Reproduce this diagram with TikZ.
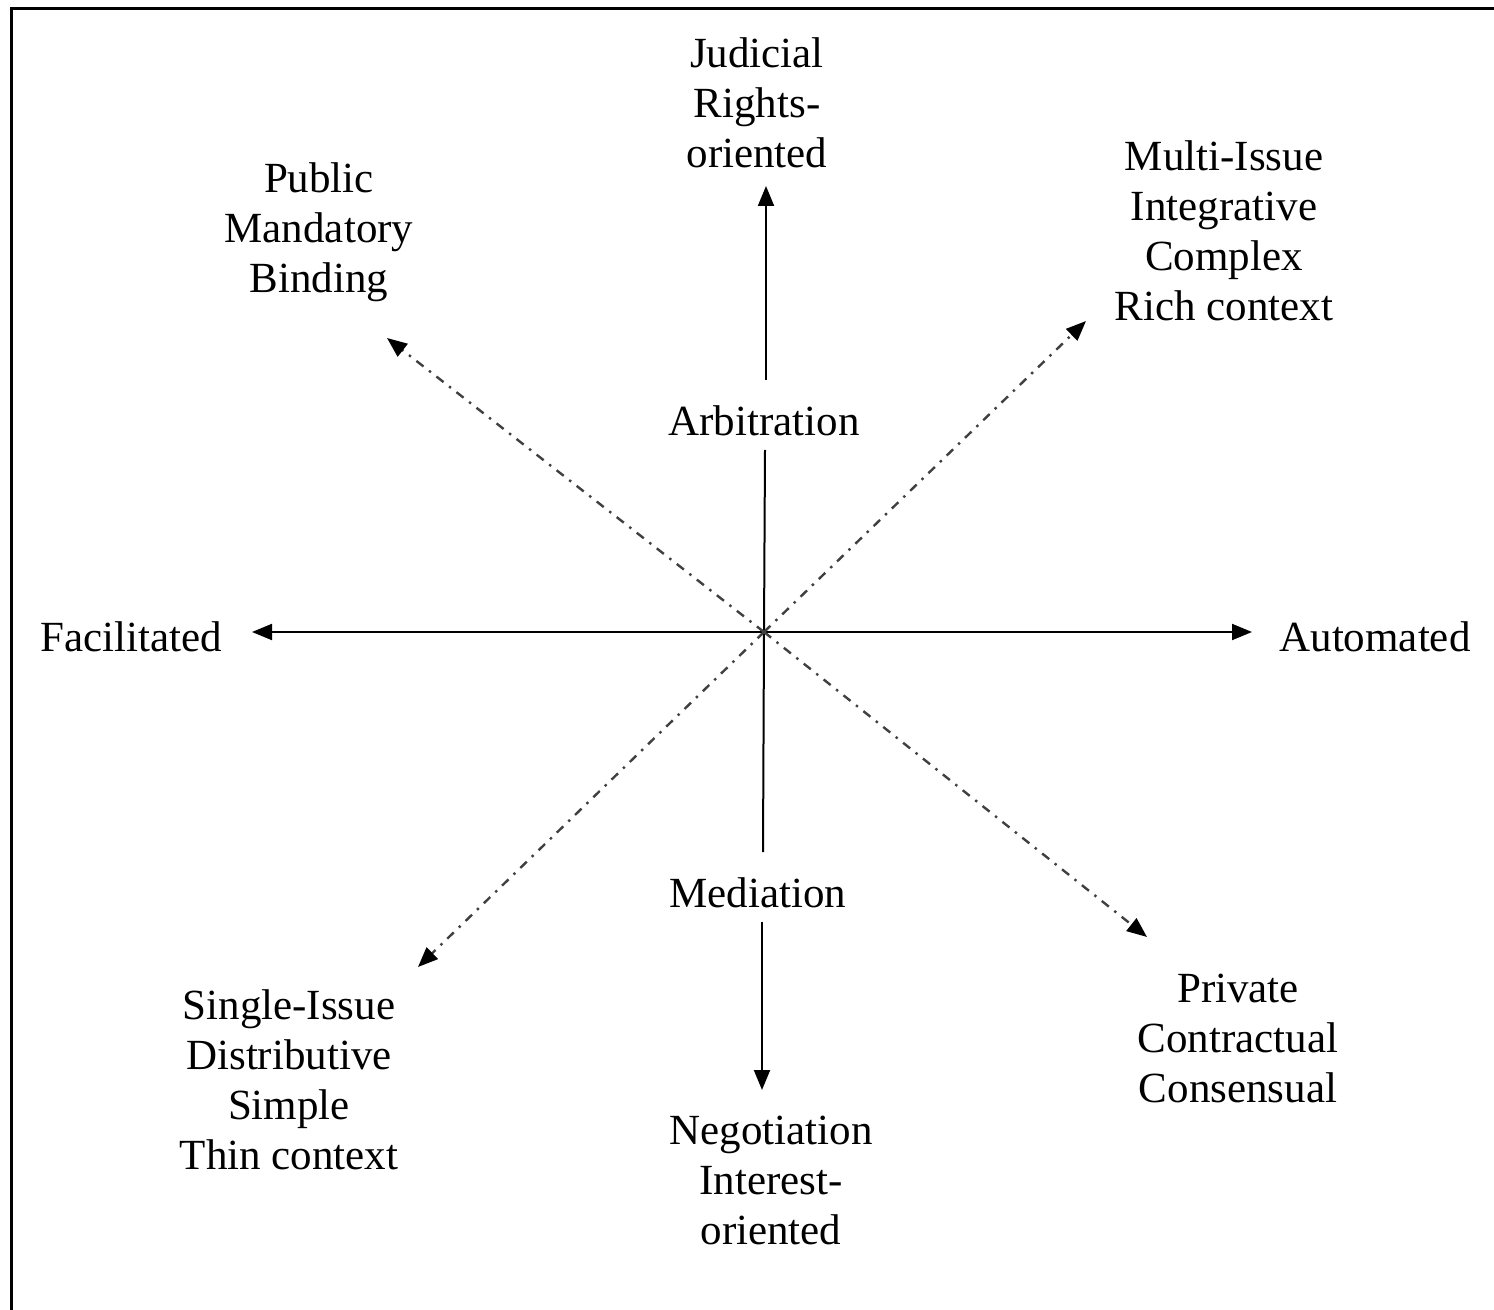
\documentclass[tikz,border=0pt]{standalone}
\usepackage{fontspec}
\setmainfont{Liberation Serif}
\usetikzlibrary{arrows.meta}
\begin{document}
\begin{tikzpicture}[x=0.5pt,y=-0.5pt,
  lbl/.style={align=center,inner sep=0pt,font=\fontsize{21.5}{25}\selectfont},
  solidarrow/.style={line width=1pt,-{Triangle[length=10pt,width=8pt]}},
  solidline/.style={line width=1pt},
  dasharrow/.style={line width=1.2pt,draw=black!75,dash pattern=on 4.5pt off 3.5pt on 1.2pt off 3.5pt,
    -{Triangle[length=10pt,width=8pt,color=black,fill=black]}}]
\useasboundingbox (0,0) rectangle (1494,1310);
\draw[line width=1.5pt] (11,1310) -- (11,9) -- (1494,9);
\coordinate (c) at (764,632);
% labels
\node[lbl] (jud) at (757,103) {Judicial\\Rights-\\oriented};
\node[lbl] (pub) at (319,232) {Public\\Mandatory\\Binding};
\node[lbl] (multi) at (1224,231) {Multi-Issue\\Integrative\\Complex\\Rich context};
\node[lbl] (fac) at (131,637) {Facilitated};
\node[lbl] (aut) at (1375,637) {Automated};
\node[lbl] (arb) at (764,421) {Arbitration};
\node[lbl] (med) at (758,893) {Mediation};
\node[lbl] (single) at (289,1080) {Single-Issue\\Distributive\\Simple\\Thin context};
\node[lbl] (neg) at (771,1180) {Negotiation\\Interest-\\oriented};
\node[lbl] (priv) at (1238,1038) {Private\\Contractual\\Consensual};
% arrow tip coordinates
\coordinate (tl) at (252,632);
\coordinate (tr) at (1252,632);
\coordinate (tu) at (766,186);
\coordinate (td) at (762,1090);
\coordinate (tnw) at (387,338);
\coordinate (tne) at (1086,321);
\coordinate (tsw) at (418,967);
\coordinate (tse) at (1147,937);
\coordinate (arbtop) at (766,380);
\coordinate (arbbot) at (765,450);
\coordinate (medtop) at (763,852);
\coordinate (medbot) at (762,922);
% axes
\draw[solidarrow] (c) -- (tl);
\draw[solidarrow] (c) -- (tr);
\draw[solidline] (c) -- (arbbot);
\draw[solidarrow] (arbtop) -- (tu);
\draw[solidline] (c) -- (medtop);
\draw[solidarrow] (medbot) -- (td);
% diagonals
\draw[dasharrow] (c) -- (tnw);
\draw[dasharrow] (c) -- (tne);
\draw[dasharrow] (c) -- (tsw);
\draw[dasharrow] (c) -- (tse);
\end{tikzpicture}
\end{document}
